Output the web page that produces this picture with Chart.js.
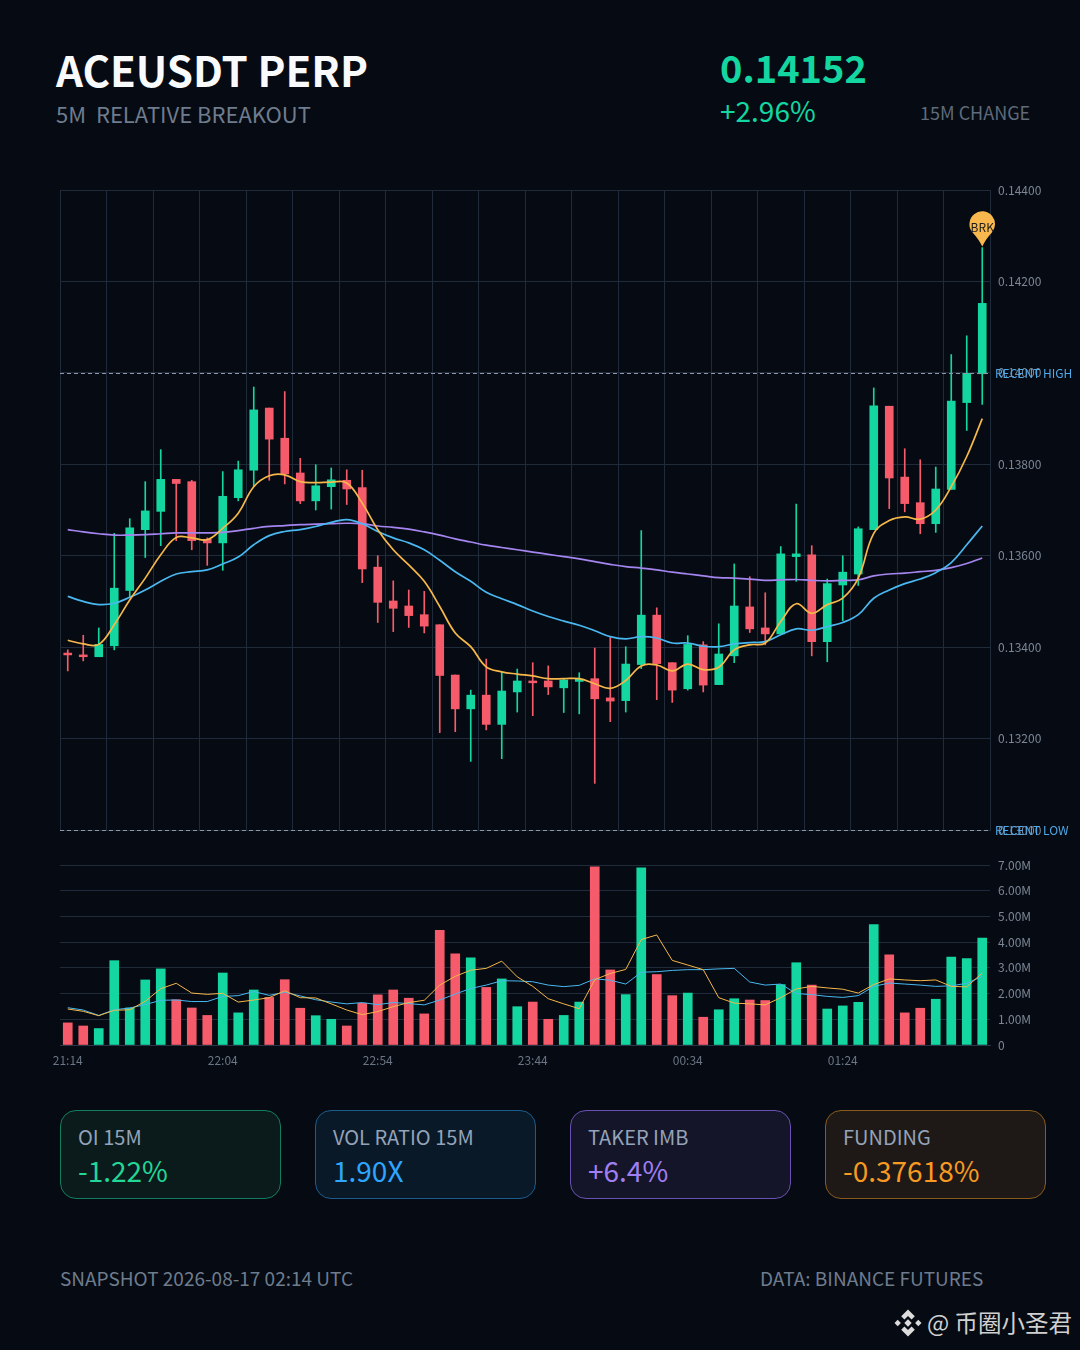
<!DOCTYPE html>
<html><head><meta charset="utf-8">
<script src="https://cdn.jsdelivr.net/npm/chart.js@4"></script>
<style>
html,body{margin:0;padding:0;background:#060a12;}
body{width:1080px;height:1350px;position:relative;overflow:hidden;font-family:"Noto Sans CJK SC","Noto Sans",sans-serif;}
.t{position:absolute;white-space:pre;line-height:1;}
canvas{position:absolute;}
.card{position:absolute;top:1110px;width:219px;height:87px;border-radius:16px;border:1px solid;}
.card .l{position:absolute;left:17px;top:13px;font-size:20px;color:#94a3b8;line-height:26px;white-space:pre;}
.card .v{position:absolute;left:17px;top:41px;font-size:28px;line-height:36px;white-space:pre;}
</style></head><body>
<div class="t" style="left:56px;top:43px;font-size:42px;font-weight:700;color:#f8fafc;line-height:52px">ACEUSDT PERP</div>
<div class="t" style="left:56px;top:98px;font-size:22px;color:#6e7c8e;line-height:30px">5M  RELATIVE BREAKOUT</div>
<div class="t" style="left:720px;top:43px;font-size:38px;font-weight:700;color:#14d6a0;line-height:48px">0.14152</div>
<div class="t" style="left:720px;top:92px;font-size:28px;color:#14d6a0;line-height:36px">+2.96%</div>
<div class="t" style="left:920px;top:99px;font-size:18px;color:#5f6b7a;line-height:26px">15M CHANGE</div>
<canvas id="main" width="1030" height="660" style="left:50px;top:180px"></canvas>
<canvas id="vol" width="1030" height="220" style="left:50px;top:855px"></canvas>
<div class="card" style="left:60px;background:#0b1b1c;border-color:#127d5f"><div class="l">OI 15M</div><div class="v" style="color:#22d695">-1.22%</div></div>
<div class="card" style="left:315px;background:#0a1928;border-color:#1c5c8c"><div class="l">VOL RATIO 15M</div><div class="v" style="color:#2ea6ff">1.90X</div></div>
<div class="card" style="left:570px;background:#15152a;border-color:#6a50b0"><div class="l">TAKER IMB</div><div class="v" style="color:#a07ff2">+6.4%</div></div>
<div class="card" style="left:825px;background:#1e1916;border-color:#8a5a1c"><div class="l">FUNDING</div><div class="v" style="color:#f79a22">-0.37618%</div></div>
<div class="t" style="left:60px;top:1265px;font-size:19px;color:#6e7c8e;line-height:26px">SNAPSHOT 2026-08-17 02:14 UTC</div>
<div class="t" style="left:760px;top:1265px;font-size:19px;color:#6e7c8e;line-height:26px">DATA: BINANCE FUTURES</div>
<svg style="position:absolute;left:894px;top:1309px" width="28" height="28" viewBox="0 0 28 28" fill="#dcdcdc">
<path d="M14 0.5 L20.8 7.3 L17.6 10.5 L14 6.9 L10.4 10.5 L7.2 7.3 Z"/><path d="M14 27.5 L7.2 20.7 L10.4 17.5 L14 21.1 L17.6 17.5 L20.8 20.7 Z"/>
<path d="M0.5 14 L3.7 10.8 L6.9 14 L3.7 17.2 Z"/><path d="M21.1 14 L24.3 10.8 L27.5 14 L24.3 17.2 Z"/><path d="M14 10.3 L17.7 14 L14 17.7 L10.3 14 Z"/></svg>
<div class="t" style="left:927px;top:1307px;font-size:23.5px;color:#d0d0d0;line-height:30px">@ 币圈小圣君</div>
<script>
const times = ["21:14","21:19","21:24","21:29","21:34","21:39","21:44","21:49","21:54","21:59",
"22:04","22:09","22:14","22:19","22:24","22:29","22:34","22:39","22:44","22:49",
"22:54","22:59","23:04","23:09","23:14","23:19","23:24","23:29","23:34","23:39",
"23:44","23:49","23:54","23:59","00:04","00:09","00:14","00:19","00:24","00:29",
"00:34","00:39","00:44","00:49","00:54","00:59","01:04","01:09","01:14","01:19",
"01:24","01:29","01:34","01:39","01:44","01:49","01:54","01:59","02:04","02:09"];
const opens = [0.13387,0.13383,0.13379,0.13403,0.13524,0.13657,0.13697,0.13767,0.13762,0.13636,
0.13628,0.13727,0.13787,0.13923,0.13857,0.13781,0.13720,0.13751,0.13765,0.13749,
0.13575,0.13501,0.13490,0.13471,0.13449,0.13339,0.13265,0.13295,0.13231,0.13302,
0.13326,0.13326,0.13311,0.13325,0.13331,0.13289,0.13283,0.13362,0.13470,0.13366,
0.13309,0.13405,0.13318,0.13381,0.13488,0.13442,0.13429,0.13598,0.13602,0.13412,
0.13536,0.13560,0.13657,0.13927,0.13772,0.13716,0.13670,0.13745,0.13935,0.13998];
const closes = [0.13383,0.13379,0.13406,0.13529,0.13661,0.13698,0.13767,0.13758,0.13633,0.13628,
0.13730,0.13788,0.13919,0.13855,0.13779,0.13720,0.13753,0.13766,0.13746,0.13571,
0.13498,0.13485,0.13469,0.13446,0.13338,0.13265,0.13295,0.13231,0.13304,0.13326,
0.13322,0.13313,0.13328,0.13330,0.13287,0.13282,0.13363,0.13470,0.13364,0.13306,
0.13406,0.13317,0.13385,0.13490,0.13440,0.13429,0.13604,0.13604,0.13412,0.13539,
0.13564,0.13659,0.13928,0.13770,0.13714,0.13670,0.13746,0.13938,0.13999,0.14152];
const highs = [0.13394,0.13426,0.13442,0.13649,0.13681,0.13762,0.13832,0.13767,0.13765,0.13639,
0.13784,0.13807,0.13969,0.13923,0.13959,0.13813,0.13799,0.13792,0.13788,0.13787,
0.13600,0.13545,0.13525,0.13522,0.13449,0.13339,0.13306,0.13374,0.13345,0.13352,
0.13366,0.13359,0.13330,0.13344,0.13398,0.13421,0.13401,0.13655,0.13486,0.13366,
0.13425,0.13412,0.13451,0.13582,0.13554,0.13519,0.13620,0.13713,0.13622,0.13549,
0.13600,0.13663,0.13967,0.13927,0.13834,0.13810,0.13794,0.14040,0.14081,0.14274];
const lows = [0.13348,0.13370,0.13379,0.13394,0.13510,0.13596,0.13622,0.13633,0.13613,0.13579,
0.13568,0.13720,0.13751,0.13765,0.13757,0.13714,0.13700,0.13702,0.13712,0.13541,
0.13454,0.13434,0.13443,0.13431,0.13213,0.13215,0.13150,0.13219,0.13156,0.13258,
0.13250,0.13296,0.13257,0.13254,0.13102,0.13237,0.13258,0.13353,0.13285,0.13279,
0.13306,0.13302,0.13318,0.13366,0.13432,0.13405,0.13429,0.13544,0.13381,0.13368,
0.13458,0.13535,0.13657,0.13703,0.13696,0.13648,0.13651,0.13745,0.13874,0.13931];
const ma7 = [0.13415,0.13407,0.13406,0.13449,0.13503,0.13551,0.13602,0.13640,0.13639,0.13635,
0.13660,0.13693,0.13751,0.13775,0.13777,0.13762,0.13760,0.13761,0.13759,0.13715,
0.13657,0.13613,0.13580,0.13544,0.13489,0.13431,0.13401,0.13357,0.13346,0.13341,
0.13337,0.13331,0.13331,0.13331,0.13320,0.13310,0.13327,0.13359,0.13361,0.13348,
0.13363,0.13351,0.13356,0.13394,0.13405,0.13409,0.13456,0.13495,0.13474,0.13493,
0.13507,0.13551,0.13649,0.13677,0.13685,0.13680,0.13700,0.13751,0.13817,0.13900];
const ma25 = [0.13511,0.13500,0.13493,0.13496,0.13509,0.13525,0.13544,0.13560,0.13565,0.13569,
0.13582,0.13597,0.13624,0.13644,0.13653,0.13657,0.13664,0.13673,0.13679,0.13670,
0.13653,0.13639,0.13628,0.13613,0.13590,0.13565,0.13544,0.13520,0.13506,0.13493,
0.13479,0.13467,0.13457,0.13448,0.13436,0.13423,0.13418,0.13423,0.13420,0.13409,
0.13409,0.13402,0.13401,0.13407,0.13410,0.13412,0.13427,0.13440,0.13437,0.13445,
0.13454,0.13471,0.13507,0.13525,0.13539,0.13549,0.13563,0.13585,0.13624,0.13665];
const ma99 = [0.13657,0.13652,0.13648,0.13645,0.13645,0.13646,0.13648,0.13650,0.13650,0.13650,
0.13651,0.13655,0.13660,0.13664,0.13666,0.13668,0.13669,0.13670,0.13671,0.13670,
0.13665,0.13662,0.13658,0.13652,0.13645,0.13637,0.13630,0.13623,0.13618,0.13613,
0.13608,0.13603,0.13598,0.13593,0.13587,0.13581,0.13576,0.13573,0.13569,0.13564,
0.13560,0.13556,0.13552,0.13551,0.13549,0.13546,0.13547,0.13548,0.13546,0.13545,
0.13546,0.13547,0.13556,0.13560,0.13562,0.13565,0.13568,0.13574,0.13583,0.13595];
const volumes = [0.86,0.74,0.64,3.28,1.44,2.53,2.96,1.76,1.44,1.15,
2.80,1.25,2.14,1.85,2.54,1.43,1.14,1.00,0.74,1.62,
1.95,2.14,1.82,1.21,4.46,3.55,3.39,2.24,2.57,1.49,
1.67,1.00,1.15,1.67,6.93,2.92,1.96,6.89,2.74,1.92,
2.02,1.08,1.37,1.80,1.75,1.73,2.35,3.20,2.33,1.40,
1.52,1.66,4.68,3.51,1.25,1.43,1.78,3.42,3.36,4.16];
const volMa5 = [1.40,1.31,1.14,1.35,1.37,1.70,2.19,2.40,2.02,1.97,
2.01,1.67,1.75,1.84,2.11,1.84,1.83,1.60,1.36,1.18,
1.30,1.49,1.65,1.74,2.33,2.67,2.91,2.98,3.26,2.65,
2.28,1.80,1.60,1.41,2.54,2.78,2.94,4.10,4.28,3.29,
3.11,2.93,1.84,1.63,1.60,1.56,1.84,2.18,2.28,2.22,
2.17,2.02,2.35,2.57,2.53,2.50,2.53,2.28,2.26,2.80];
const volMa10 = [1.45,1.36,1.15,1.37,1.44,1.57,1.74,1.75,1.69,1.69,
1.89,1.92,2.08,1.93,2.05,1.91,1.76,1.67,1.60,1.65,
1.57,1.65,1.61,1.56,1.75,1.98,2.20,2.33,2.50,2.49,
2.46,2.33,2.27,2.32,2.57,2.52,2.37,2.83,2.85,2.90,
2.93,2.93,2.96,2.98,2.45,2.33,2.37,2.00,1.96,1.89,
1.85,1.92,2.28,2.41,2.37,2.33,2.28,2.30,2.40,2.67];
const recentHigh = 0.14, recentLow = 0.13, priceMin = 0.13, priceMax = 0.144;
const priceTicks = [0.144,0.142,0.14,0.138,0.136,0.134,0.132,0.13];
const UP="#14d6a0", DOWN="#f65b6b", GRID="#1f2b3a", AXIS="#7b8796";
const FONT='"Noto Sans CJK SC","Noto Sans",sans-serif';
const isUp=closes.map((c,i)=>c>=opens[i]);
const candleColors=isUp.map(u=>u?UP:DOWN);
const bodies=opens.map((o,i)=>[o,closes[i]]);
const wicks=lows.map((l,i)=>[l,highs[i]]);
const noPad=s=>{s.paddingLeft=0;s.paddingRight=0;s.paddingTop=0;s.paddingBottom=0;};

const overlay={id:"overlay",afterDatasetsDraw(c){
  const g=c.ctx,a=c.chartArea,y=c.scales.y,x=c.scales.x;
  g.save();
  g.font="12px "+FONT;g.textBaseline="middle";g.textAlign="left";
  [[recentHigh,"RECENT HIGH"],[recentLow,"RECENT LOW"]].forEach(([v,t])=>{
    const p=Math.round(y.getPixelForValue(v))+.5;
    g.strokeStyle="#8d97a8";g.lineWidth=1;g.setLineDash([4,3]);
    g.beginPath();g.moveTo(a.left,p);g.lineTo(a.right,p);g.stroke();
    g.setLineDash([]);g.fillStyle="#4fa8e8";g.fillText(t,a.right+5,p);
  });
  const last=highs.length-1,px=x.getPixelForValue(last),tip=y.getPixelForValue(highs[last])-1;
  const r=12.8,cy=tip-22.5;
  g.fillStyle="#f8b84e";g.beginPath();g.arc(px,cy,r,Math.PI*0.78,Math.PI*0.22);
  g.quadraticCurveTo(px+3,cy+r+3,px,tip);g.quadraticCurveTo(px-3,cy+r+3,px+r*Math.cos(Math.PI*0.78),cy+r*Math.sin(Math.PI*0.78));
  g.closePath();g.fill();
  g.fillStyle="#1c1c1c";g.textAlign="center";g.font="12px "+FONT;g.fillText("BRK",px,cy+3);
  g.restore();
}};
const common={responsive:false,animation:false,events:[],plugins:{legend:{display:false},tooltip:{enabled:false}}};
const line=(data,color,w,order,tension)=>({type:"line",data,borderColor:color,borderWidth:w,pointRadius:0,tension,fill:false,order});
new Chart(document.getElementById("main"),{
  data:{labels:times,datasets:[
    {type:"bar",data:wicks,backgroundColor:candleColors,barThickness:1,grouped:false,order:5},
    {type:"bar",data:bodies,backgroundColor:candleColors,barThickness:8,grouped:false,order:4},
    line(ma99,"#a585f0",1.7,3,0.4),
    line(ma25,"#4ab8f0",1.7,2,0.4),
    line(ma7,"#f6b84a",1.7,1,0.4)
  ]},
  options:{...common,layout:{padding:{left:10,top:10,bottom:10,right:0}},
    scales:{
      x:{offset:true,afterFit:s=>{noPad(s);s.height=0},border:{display:false},
        grid:{offset:true,drawTicks:false,color:c=>(c.index===undefined||c.index%3===0)?GRID:"transparent"},
        ticks:{display:false,autoSkip:false}},
      y:{position:"right",min:priceMin,max:priceMax,afterFit:s=>{noPad(s);s.width=90},
        afterBuildTicks:s=>{s.ticks=priceTicks.map(v=>({value:v}))},
        border:{color:GRID},grid:{color:GRID,drawTicks:false},
        ticks:{color:AXIS,font:{size:12,family:FONT},padding:8,callback:v=>Number(v).toFixed(5)}}
    }},
  plugins:[overlay]
});
new Chart(document.getElementById("vol"),{
  data:{labels:times,datasets:[
    {type:"bar",data:volumes,backgroundColor:candleColors,barThickness:9,order:3},
    line(volMa10,"#4ab8f0",1,2,0),
    line(volMa5,"#f6b84a",1,1,0)
  ]},
  options:{...common,layout:{padding:{left:10,top:10,bottom:0,right:0}},
    scales:{
      x:{offset:true,afterFit:s=>{noPad(s);s.height=30},border:{display:true,color:"#2a3545"},
        grid:{display:false,drawTicks:false,tickLength:0},
        ticks:{color:"#6b7686",font:{size:12,family:FONT},padding:8,autoSkip:false,maxRotation:0,
          callback:(v,i)=>i%10===0?times[i]:""}},
      y:{position:"right",min:0,max:7,afterFit:s=>{noPad(s);s.width=90},
        border:{display:false},grid:{color:GRID,drawTicks:false},
        ticks:{stepSize:1,color:AXIS,font:{size:12,family:FONT},padding:8,callback:v=>v===0?"0":Number(v).toFixed(2)+"M"}}
    }}
});
</script>
</body></html>
